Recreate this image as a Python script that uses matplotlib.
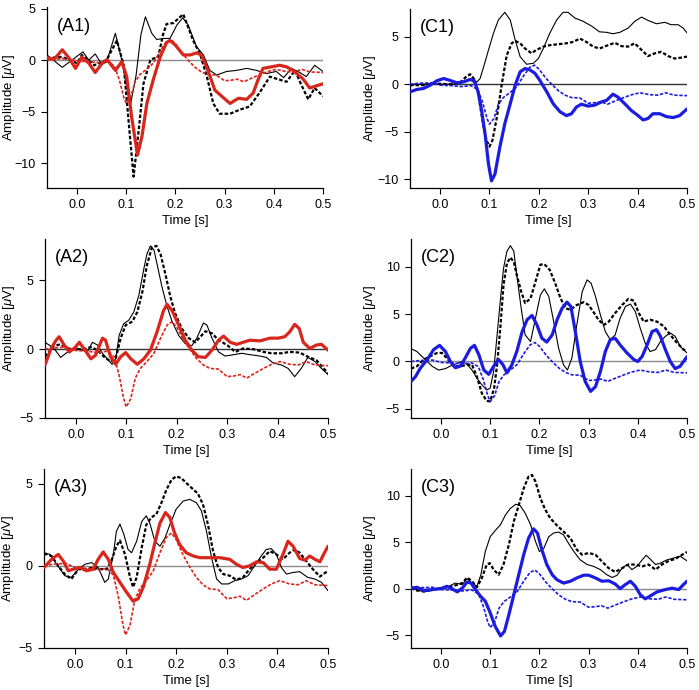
import matplotlib
matplotlib.use("Agg")
import matplotlib.pyplot as plt

plt.rcParams['font.family'] = ['Liberation Sans', 'DejaVu Sans']
plt.rcParams['mathtext.fontset'] = 'custom'
plt.rcParams['mathtext.it'] = 'Liberation Sans:italic'
plt.rcParams['mathtext.rm'] = 'Liberation Sans'

# ---------------- data ----------------
# common coloured dashed reference trace (same in every panel)
ref_t = [-0.061, -0.043, -0.017, 0.0, 0.023, 0.043, 0.0625, 0.076, 0.086, 0.095, 0.1, 0.109, 0.118, 0.128,
         0.141, 0.155, 0.168, 0.181, 0.191, 0.2, 0.214, 0.227, 0.24, 0.253, 0.266, 0.283, 0.3, 0.313, 0.326,
         0.339, 0.355, 0.372, 0.388, 0.405, 0.424, 0.441, 0.457, 0.474, 0.5]
ref_v = [0, 0.1, 0.15, -0.1, -0.15, -0.25, -0.15, -0.55, -1.9, -3.6, -4.2, -3.6, -2.1, -1.4,
         -0.9, -0.3, 0.8, 1.75, 2.0, 1.6, 0.65, -0.07, -0.7, -1.15, -1.4, -1.45, -2.0, -1.95, -1.85,
         -2.1, -1.75, -1.4, -1.1, -0.9, -1.1, -1.15, -0.9, -1.15, -1.2]

# A1
a1_solid_t = [-0.061, -0.03, 0.012, 0.024, 0.037, 0.05, 0.06, 0.078, 0.091, 0.108, 0.12, 0.13, 0.139, 0.152,
              0.162, 0.176, 0.189, 0.203, 0.215, 0.226, 0.243, 0.257, 0.27, 0.284, 0.304, 0.324, 0.345, 0.365,
              0.385, 0.405, 0.42, 0.436, 0.453, 0.466, 0.483, 0.5]
a1_solid_v = [0.5, -0.7, 0.8, 0.0, 0.6, -0.4, -0.2, 2.6, 0.0, -4.5, -1.5, 2.5, 4.2, 2.6,
              2.0, 2.1, 2.1, 3.4, 4.1, 3.4, 1.3, 0.5, -1.0, -1.45, -1.1, -1.0, -0.8, -1.0,
              -1.3, -1.1, -1.7, -0.8, -1.2, -1.6, -0.5, -1.1]
a1_dash_t = [-0.061, -0.03, 0.0, 0.01, 0.035, 0.05, 0.06, 0.081, 0.095, 0.105, 0.115, 0.125, 0.135, 0.149,
             0.155, 0.165, 0.175, 0.182, 0.196, 0.216, 0.236, 0.25, 0.264, 0.277, 0.29, 0.311, 0.331, 0.351,
             0.372, 0.392, 0.405, 0.426, 0.443, 0.456, 0.47, 0.483, 0.5]
a1_dash_v = [0.2, 0.3, -0.3, 0.5, -0.5, -0.2, 0.0, 1.9, -0.5, -6.0, -11.3, -7.0, -2.3, 0.0,
             0.15, 0.3, 2.5, 3.5, 3.6, 4.45, 1.9, 0.6, -1.6, -4.2, -5.2, -5.2, -4.8, -4.5,
             -3.1, -1.6, -1.8, -2.1, -1.0, -2.4, -3.8, -2.7, -3.5]
a1_thick_t = [-0.061, -0.047, -0.03, -0.017, -0.003, 0.01, 0.024, 0.037, 0.051, 0.061, 0.078, 0.091, 0.101,
              0.111, 0.123, 0.132, 0.142, 0.155, 0.169, 0.182, 0.189, 0.2, 0.216, 0.23, 0.243, 0.253, 0.267,
              0.28, 0.294, 0.311, 0.328, 0.345, 0.358, 0.368, 0.378, 0.395, 0.412, 0.426, 0.439, 0.459, 0.473,
              0.486, 0.5]
a1_thick_v = [0.25, 0.05, 1.0, 0.25, -0.8, 0.3, -0.3, -1.2, -0.3, 0.05, -1.0, -0.15, -1.6,
              -5.5, -9.2, -7.4, -4.2, -1.9, 0.3, 1.7, 1.9, 1.45, 0.5, 0.5, 0.7, 0.5, -1.1,
              -2.9, -3.5, -4.2, -3.7, -3.8, -3.2, -1.9, -0.8, -0.65, -0.5, -0.65, -1.0, -1.8, -2.7,
              -2.5, -2.3]

# A2
a2_solid_t = [-0.061, -0.043, -0.03, -0.016, 0.0, 0.013, 0.023, 0.033, 0.043, 0.053, 0.0625, 0.072, 0.079,
              0.086, 0.095, 0.105, 0.115, 0.125, 0.135, 0.141, 0.148, 0.155, 0.161, 0.171, 0.181, 0.191,
              0.204, 0.217, 0.23, 0.24, 0.253, 0.26, 0.27, 0.283, 0.296, 0.313, 0.329, 0.345, 0.365, 0.378,
              0.391, 0.408, 0.421, 0.434, 0.447, 0.46, 0.474, 0.487, 0.5]
a2_solid_v = [0.5, 0.05, -0.6, -0.2, 0.1, -0.07, -0.2, 0.5, 0.3, -0.3, -0.7, -1.1, -0.7,
              1.0, 1.85, 2.1, 2.7, 3.9, 5.85, 6.9, 7.5, 7.2, 6.2, 4.5, 3.1, 2.0,
              1.0, 0.4, 0.25, 0.8, 1.9, 1.75, 0.8, -0.2, -0.5, -0.4, -0.3, -0.4, -0.5, -0.6,
              -1.0, -1.15, -1.4, -2.0, -1.4, -0.6, -0.9, -1.4, -1.85]
a2_dash_t = [-0.061, -0.043, -0.03, -0.016, 0.0, 0.016, 0.03, 0.043, 0.056, 0.069, 0.079, 0.089, 0.099,
             0.112, 0.122, 0.132, 0.141, 0.151, 0.16, 0.168, 0.178, 0.1875, 0.197, 0.21, 0.224, 0.237,
             0.247, 0.257, 0.27, 0.283, 0.3, 0.316, 0.332, 0.352, 0.372, 0.388, 0.408, 0.424, 0.444, 0.46,
             0.477, 0.5]
a2_dash_v = [-0.55, 0.25, 0.35, 0.05, 0.0, 0.0, 0.15, -0.07, -0.55, -0.9, -0.7, 0.8, 1.75,
             2.0, 2.7, 4.15, 6.1, 7.4, 7.5, 6.9, 5.4, 3.8, 2.6, 1.5, 0.8, 0.5,
             0.9, 1.3, 1.15, 0.65, 0.3, -0.2, 0.05, 0.0, -0.2, -0.3, -0.3, -0.2, -0.25, -0.55,
             -0.8, -1.75]
a2_thick_t = [-0.061, -0.049, -0.039, -0.033, -0.023, -0.013, -0.003, 0.007, 0.016, 0.03, 0.039, 0.053,
              0.059, 0.069, 0.079, 0.089, 0.099, 0.109, 0.122, 0.135, 0.148, 0.161, 0.174, 0.181, 0.191,
              0.204, 0.217, 0.23, 0.243, 0.257, 0.27, 0.283, 0.293, 0.306, 0.319, 0.332, 0.345, 0.365,
              0.385, 0.401, 0.414, 0.424, 0.434, 0.443, 0.451, 0.464, 0.477, 0.487, 0.5]
a2_thick_v = [-1.15, 0.05, 0.65, 0.9, 0.3, -0.2, 0.05, 0.5, 0.05, -0.7, -0.45, 0.8,
              0.65, -0.55, -1.1, -0.55, -0.25, -0.7, -1.1, -0.7, -0.07, 1.25, 2.8, 3.25, 2.8,
              1.75, 0.65, -0.07, -0.55, -0.6, -0.07, 0.65, 0.95, 0.5, 0.35, 0.5, 0.65, 0.6,
              0.8, 0.8, 0.9, 1.25, 1.8, 1.5, 0.5, 0.05, 0.3, 0.35, -0.07]

# A3
a3_solid_t = [-0.061, -0.049, -0.036, -0.02, -0.007, 0.007, 0.02, 0.033, 0.046, 0.059, 0.066, 0.076, 0.082,
              0.089, 0.097, 0.105, 0.112, 0.122, 0.132, 0.141, 0.148, 0.158, 0.168, 0.178, 0.1875, 0.2,
              0.214, 0.227, 0.24, 0.25, 0.26, 0.27, 0.28, 0.29, 0.303, 0.316, 0.329, 0.342, 0.355, 0.368,
              0.378, 0.388, 0.398, 0.408, 0.418, 0.431, 0.444, 0.46, 0.474, 0.487, 0.5]
a3_solid_v = [0.8, 0.7, 0.1, -0.6, -0.7, -0.2, 0.1, 0.2, -0.1, -1.0, -0.8, 0.7, 2.1,
              2.55, 1.9, 1.0, 0.8, 1.5, 2.7, 3.05, 2.6, 1.5, 1.2, 1.7, 2.5, 3.45,
              3.95, 4.05, 3.85, 3.35, 2.1, 0.5, -0.8, -1.1, -1.1, -0.9, -0.8, -0.6, 0.0, 0.6,
              1.0, 1.05, 0.7, -0.1, -0.5, -0.4, -0.35, -0.7, -0.8, -1.0, -1.5]
a3_dash_t = [-0.061, -0.046, -0.033, -0.02, -0.007, 0.007, 0.023, 0.036, 0.049, 0.063, 0.072, 0.082, 0.089,
             0.099, 0.109, 0.115, 0.122, 0.132, 0.141, 0.151, 0.161, 0.171, 0.181, 0.191, 0.2, 0.21,
             0.22, 0.234, 0.243, 0.253, 0.263, 0.273, 0.283, 0.293, 0.306, 0.319, 0.332, 0.345, 0.359,
             0.372, 0.385, 0.398, 0.411, 0.424, 0.434, 0.444, 0.457, 0.47, 0.484, 0.5]
a3_dash_v = [0.75, 0.6, 0.0, -0.5, -0.8, -0.2, -0.2, -0.1, -0.2, -0.2, 0.3, 1.2, 1.55,
             0.7, -0.7, -1.3, -0.7, 1.1, 2.5, 2.95, 3.15, 3.85, 4.65, 5.25, 5.45, 5.35,
             5.05, 4.65, 4.4, 3.75, 2.5, 0.9, -0.1, -0.5, -0.6, -0.85, -0.7, -0.2, 0.2,
             0.5, 0.9, 0.7, 0.4, 0.8, 1.0, 0.8, 0.3, -0.2, -0.65, -0.3]
a3_thick_t = [-0.061, -0.046, -0.033, -0.023, -0.013, -0.003, 0.01, 0.023, 0.036, 0.046, 0.056, 0.066,
              0.076, 0.089, 0.102, 0.115, 0.125, 0.135, 0.148, 0.158, 0.168, 0.179, 0.1875, 0.197, 0.207,
              0.22, 0.234, 0.247, 0.266, 0.286, 0.306, 0.319, 0.332, 0.345, 0.359, 0.372, 0.385, 0.398,
              0.411, 0.421, 0.431, 0.444, 0.454, 0.464, 0.474, 0.484, 0.493, 0.5]
a3_thick_v = [-0.1, 0.4, 0.7, 0.3, -0.3, -0.2, -0.1, -0.3, -0.2, 0.4, 0.85, 0.4,
              -0.4, -1.0, -1.6, -2.15, -2.0, -1.3, 0.1, 1.4, 2.6, 3.25, 2.95, 2.0, 1.3,
              0.8, 0.6, 0.5, 0.5, 0.5, 0.4, 0.1, -0.1, 0.0, 0.25, 0.2, -0.2, -0.2,
              0.7, 1.5, 1.2, 0.45, 0.35, 0.6, 0.4, 0.25, 0.8, 1.2]

# C1
c1_solid_t = [-0.061, -0.03, 0.0, 0.02, 0.034, 0.05, 0.061, 0.071, 0.081, 0.088, 0.098, 0.108, 0.118, 0.131,
              0.142, 0.152, 0.162, 0.175, 0.189, 0.199, 0.209, 0.222, 0.236, 0.249, 0.259, 0.273, 0.29,
              0.307, 0.323, 0.337, 0.35, 0.364, 0.381, 0.394, 0.408, 0.421, 0.438, 0.455, 0.468, 0.482,
              0.492, 0.5]
c1_solid_v = [0.0, 0.0, 0.0, 0.0, 0.05, 0.25, 0.5, 0.05, 0.6, 1.8, 3.6, 5.35, 6.75, 7.55,
              6.75, 4.65, 2.9, 2.1, 2.2, 2.7, 3.75, 5.35, 6.75, 7.55, 7.55, 6.95, 6.6,
              6.1, 5.5, 5.45, 5.3, 5.45, 5.9, 6.6, 7.05, 6.7, 6.35, 6.5, 6.25, 6.25,
              5.9, 5.4]
c1_dash_t = [-0.061, -0.034, -0.013, 0.0, 0.02, 0.04, 0.054, 0.061, 0.071, 0.077, 0.088, 0.094, 0.1, 0.106,
             0.115, 0.125, 0.135, 0.145, 0.152, 0.162, 0.172, 0.185, 0.195, 0.209, 0.222, 0.239, 0.256,
             0.27, 0.283, 0.296, 0.31, 0.323, 0.34, 0.354, 0.367, 0.381, 0.394, 0.408, 0.421, 0.435,
             0.448, 0.462, 0.475, 0.489, 0.5]
c1_dash_v = [-0.1, -0.1, 0.05, 0.05, 0.0, 0.15, 0.85, 1.05, 0.4, -1.0, -4.5, -5.9, -6.55, -5.9,
             -3.45, 0.05, 3.05, 4.3, 4.55, 4.3, 3.75, 3.25, 3.6, 3.95, 4.1, 4.2, 4.3,
             4.45, 4.8, 4.45, 3.95, 3.75, 4.1, 4.35, 4.0, 3.95, 4.3, 3.6, 2.95, 3.25,
             3.4, 2.95, 2.7, 2.8, 2.9]
c1_thick_t = [-0.061, -0.047, -0.034, -0.02, -0.007, 0.007, 0.02, 0.034, 0.047, 0.061, 0.069, 0.077, 0.084,
              0.091, 0.098, 0.104, 0.111, 0.121, 0.131, 0.142, 0.152, 0.162, 0.172, 0.182, 0.192, 0.202,
              0.216, 0.229, 0.243, 0.256, 0.266, 0.276, 0.286, 0.3, 0.313, 0.327, 0.337, 0.35, 0.36,
              0.374, 0.387, 0.401, 0.411, 0.421, 0.431, 0.445, 0.458, 0.472, 0.485, 0.5]
c1_thick_v = [-0.8, -0.55, -0.45, -0.1, 0.35, 0.6, 0.4, 0.15, 0.25, 0.5, 0.4, -0.8, -2.75,
              -5.2, -8.4, -10.15, -9.45, -6.6, -4.15, -2.05, -0.1, 1.3, 1.65, 1.5, 1.15, 0.4,
              -0.8, -2.05, -2.9, -3.3, -3.1, -2.4, -2.1, -2.3, -2.2, -1.85, -1.7, -1.05, -1.35,
              -2.05, -2.75, -3.3, -3.75, -3.6, -3.1, -3.1, -3.4, -3.5, -3.3, -2.6]

# C2
c2_solid_t = [-0.061, -0.049, -0.035, -0.018, -0.005, 0.009, 0.022, 0.033, 0.043, 0.053, 0.063, 0.073, 0.083,
              0.093, 0.1, 0.107, 0.114, 0.121, 0.127, 0.134, 0.141, 0.148, 0.154, 0.163, 0.171, 0.182,
              0.192, 0.202, 0.21, 0.219, 0.229, 0.239, 0.249, 0.257, 0.266, 0.276, 0.287, 0.297, 0.305,
              0.314, 0.324, 0.334, 0.344, 0.354, 0.364, 0.375, 0.385, 0.395, 0.405, 0.415, 0.425, 0.436,
              0.446, 0.456, 0.466, 0.476, 0.486, 0.5]
c2_solid_v = [1.35, 1.05, 0.35, -0.5, -0.9, -0.75, -0.4, -0.2, 0.0, -0.3, -0.9, -1.75, -2.45,
              -3.0, -2.8, -1.05, 2.8, 6.65, 9.8, 11.6, 12.2, 11.6, 9.1, 5.6, 2.8, 2.1,
              4.55, 7.0, 7.65, 6.85, 4.2, 1.4, -0.35, -0.9, 0.35, 3.85, 7.35, 8.6, 8.25,
              6.85, 4.9, 3.15, 2.3, 2.8, 4.55, 5.8, 6.05, 5.25, 3.5, 1.95, 1.05, 1.25,
              2.1, 2.65, 3.0, 2.65, 1.6, 0.9]
c2_dash_t = [-0.061, -0.049, -0.035, -0.022, -0.008, 0.002, 0.012, 0.026, 0.039, 0.053, 0.063, 0.073, 0.083,
             0.093, 0.1, 0.108, 0.114, 0.121, 0.127, 0.134, 0.141, 0.148, 0.154, 0.163, 0.171, 0.182,
             0.192, 0.202, 0.21, 0.221, 0.232, 0.243, 0.253, 0.263, 0.276, 0.29, 0.3, 0.31, 0.32, 0.331,
             0.341, 0.354, 0.368, 0.381, 0.392, 0.402, 0.412, 0.425, 0.439, 0.453, 0.466, 0.48, 0.493, 0.5]
c2_dash_v = [-0.75, -0.5, 0.2, 0.55, 0.9, 0.9, 0.35, -0.5, -0.5, -0.35, -0.35, -1.6, -3.35,
             -4.15, -4.2, -2.8, -0.35, 3.85, 8.05, 10.35, 10.95, 10.5, 9.1, 7.35, 6.15, 6.65,
             8.4, 10.2, 10.25, 9.65, 8.25, 6.65, 5.6, 5.45, 5.95, 6.25, 5.95, 5.2, 4.4, 3.85,
             4.2, 5.1, 5.95, 6.6, 6.4, 5.1, 4.2, 4.4, 4.2, 3.7, 2.8, 1.95, 1.25, 1.1]
c2_thick_t = [-0.061, -0.052, -0.042, -0.028, -0.015, -0.003, 0.009, 0.019, 0.029, 0.039, 0.049, 0.06, 0.068,
              0.077, 0.087, 0.097, 0.107, 0.117, 0.126, 0.134, 0.144, 0.154, 0.165, 0.175, 0.185, 0.195,
              0.205, 0.215, 0.226, 0.236, 0.246, 0.256, 0.264, 0.273, 0.283, 0.293, 0.304, 0.314, 0.324,
              0.334, 0.344, 0.354, 0.364, 0.378, 0.392, 0.4, 0.409, 0.419, 0.429, 0.438, 0.446, 0.456,
              0.466, 0.476, 0.486, 0.5]
c2_thick_v = [-2.1, -1.6, -0.7, 0.2, 1.25, 1.7, 1.05, 0.0, -0.65, -0.5, 0.35, 1.4, 1.7,
              0.7, -0.9, -1.35, -0.5, 0.2, -0.35, -1.2, -0.35, 1.05, 3.15, 4.4, 4.85, 3.85,
              2.45, 2.05, 2.8, 4.4, 5.6, 6.25, 5.8, 3.15, 0.0, -2.1, -3.15, -2.65, -1.05,
              1.05, 2.3, 2.45, 1.75, 0.9, 0.2, 0.0, 0.55, 1.75, 3.15, 3.35, 2.65, 1.25,
              0.0, -0.75, -0.5, 0.5]

# C3
c3_solid_t = [-0.061, -0.049, -0.035, -0.018, -0.001, 0.016, 0.029, 0.043, 0.053, 0.063, 0.073, 0.081, 0.09,
              0.1, 0.11, 0.121, 0.131, 0.141, 0.152, 0.161, 0.171, 0.182, 0.192, 0.2, 0.209, 0.219, 0.229,
              0.239, 0.249, 0.259, 0.27, 0.283, 0.297, 0.31, 0.324, 0.337, 0.348, 0.358, 0.368, 0.378,
              0.388, 0.398, 0.409, 0.417, 0.425, 0.436, 0.446, 0.459, 0.473, 0.486, 0.5]
c3_solid_v = [0.05, -0.1, -0.35, -0.2, 0.05, 0.25, 0.6, 0.45, 1.05, 0.6, 0.25, 1.5, 4.0,
              5.6, 6.25, 6.9, 7.95, 8.65, 9.1, 8.95, 8.15, 6.9, 5.1, 4.0, 4.35, 5.6, 6.0,
              6.1, 5.8, 4.9, 4.0, 3.1, 2.6, 2.4, 2.05, 1.5, 1.2, 1.45, 2.2, 2.6,
              2.05, 2.4, 3.1, 3.6, 3.2, 2.6, 2.75, 3.1, 3.3, 3.5, 3.0]
c3_dash_t = [-0.061, -0.049, -0.035, -0.018, -0.001, 0.016, 0.029, 0.043, 0.053, 0.063, 0.073, 0.083, 0.093,
             0.099, 0.107, 0.117, 0.127, 0.138, 0.148, 0.158, 0.168, 0.178, 0.185, 0.192, 0.202, 0.212,
             0.222, 0.236, 0.249, 0.263, 0.276, 0.287, 0.3, 0.314, 0.327, 0.341, 0.354, 0.368, 0.381,
             0.395, 0.409, 0.422, 0.436, 0.449, 0.463, 0.476, 0.49, 0.5]
c3_dash_v = [0.05, -0.2, -0.3, -0.1, 0.05, 0.15, 0.35, 0.6, 1.2, 0.8, 0.15, 1.15, 2.6,
             2.75, 2.05, 1.5, 2.6, 4.75, 7.25, 9.0, 10.8, 12.1, 12.25, 11.55, 9.75, 8.5,
             7.6, 6.8, 6.15, 5.45, 4.2, 3.65, 3.85, 3.65, 2.95, 2.2, 1.8, 2.2, 2.6,
             2.6, 2.4, 2.6, 2.05, 2.6, 3.0, 3.2, 3.65, 3.95]
c3_thick_t = [-0.061, -0.049, -0.035, -0.018, -0.001, 0.012, 0.022, 0.033, 0.043, 0.053, 0.061, 0.07, 0.08,
              0.09, 0.1, 0.11, 0.121, 0.129, 0.138, 0.148, 0.158, 0.168, 0.178, 0.188, 0.196, 0.205, 0.215,
              0.226, 0.236, 0.249, 0.263, 0.276, 0.29, 0.3, 0.314, 0.327, 0.341, 0.354, 0.364, 0.375,
              0.385, 0.395, 0.405, 0.415, 0.425, 0.439, 0.456, 0.47, 0.483, 0.493, 0.5]
c3_thick_v = [0.05, 0.15, -0.2, -0.1, 0.0, 0.25, 0.0, -0.35, 0.05, 0.7, 0.6, -0.1, -0.8,
              -1.35, -2.6, -4.05, -5.1, -4.6, -2.8, -0.65, 1.5, 3.65, 5.45, 6.45, 6.0, 4.2, 2.6,
              1.5, 0.95, 0.6, 0.8, 1.15, 1.45, 1.45, 1.15, 0.8, 0.85, 0.5, 0.0, 0.45,
              0.8, 0.25, -0.65, -1.1, -0.8, -0.35, -0.1, 0.05, -0.1, 0.45, 0.8]

panel_labels = ['(A1)', '(A2)', '(A3)', '(C1)', '(C2)', '(C3)']
xticks = [0.0, 0.1, 0.2, 0.3, 0.4, 0.5]

# ---------------- layout ----------------
W, H = 699, 690
fig = plt.figure(figsize=(W / 100, H / 100), dpi=100)

RED = '#d9261c'
BLUE = '#1c1ce0'

def box(left, right, top, bottom):
    return [left / W, (H - bottom) / H, (right - left) / W, (bottom - top) / H]

panels = [
    dict(rect=box(47, 323, 7, 188), ylim=(-12.4, 5.15), yticks=[-10, -5, 0, 5], col=RED,
         solid=(a1_solid_t, a1_solid_v), dash=(a1_dash_t, a1_dash_v), thick=(a1_thick_t, a1_thick_v),
         label=panel_labels[0], zc='#8a8a8a', ylx=-0.107),
    dict(rect=box(45, 328, 239, 418), ylim=(-5, 8.0), yticks=[-5, 0, 5], col=RED,
         solid=(a2_solid_t, a2_solid_v), dash=(a2_dash_t, a2_dash_v), thick=(a2_thick_t, a2_thick_v),
         label=panel_labels[1], zc='#333333', ylx=-0.1),
    dict(rect=box(44, 328, 469, 648), ylim=(-5, 5.9), yticks=[-5, 0, 5], col=RED,
         solid=(a3_solid_t, a3_solid_v), dash=(a3_dash_t, a3_dash_v), thick=(a3_thick_t, a3_thick_v),
         label=panel_labels[2], zc='#8a8a8a', ylx=-0.097),
    dict(rect=box(410, 687, 9, 188), ylim=(-10.9, 7.9), yticks=[-10, -5, 0, 5], col=BLUE,
         solid=(c1_solid_t, c1_solid_v), dash=(c1_dash_t, c1_dash_v), thick=(c1_thick_t, c1_thick_v),
         label=panel_labels[3], zc='#333333', ylx=-0.116),
    dict(rect=box(411, 687, 239, 418), ylim=(-5.95, 12.9), yticks=[-5, 0, 5, 10], col=BLUE,
         solid=(c2_solid_t, c2_solid_v), dash=(c2_dash_t, c2_dash_v), thick=(c2_thick_t, c2_thick_v),
         label=panel_labels[4], zc='#8a8a8a', ylx=-0.118),
    dict(rect=box(411, 687, 469, 648), ylim=(-6.4, 12.9), yticks=[-5, 0, 5, 10], col=BLUE,
         solid=(c3_solid_t, c3_solid_v), dash=(c3_dash_t, c3_dash_v), thick=(c3_thick_t, c3_thick_v),
         label=panel_labels[5], zc='#8a8a8a', ylx=-0.118),
]

for p in panels:
    ax = fig.add_axes(p['rect'])
    ax.axhline(0, color=p['zc'], lw=1.0, zorder=1)
    ax.plot(*p['solid'], color='black', lw=0.8, zorder=2, solid_joinstyle='round')
    ax.plot(*p['dash'], color='black', lw=1.6, linestyle=(0, (1.6, 0.9)), zorder=3)
    ax.plot(ref_t, ref_v, color=p['col'], lw=1.2, linestyle=(0, (2.0, 1.0)), zorder=4)
    ax.plot(*p['thick'], color=p['col'], lw=2.3, zorder=5, solid_joinstyle='round', solid_capstyle='round')
    ax.set_xlim(-0.061, 0.5)
    ax.set_ylim(*p['ylim'])
    ax.set_xticks(xticks)
    ax.set_xticklabels([f'{x:.1f}' for x in xticks])
    ax.set_yticks(p['yticks'])
    for s in ('top', 'right'):
        ax.spines[s].set_visible(False)
    for s in ('left', 'bottom'):
        ax.spines[s].set_linewidth(0.9)
    ax.tick_params(direction='out', length=4, width=0.8, labelsize=9, pad=4)
    ax.set_xlabel('Time [s]', fontsize=9.5, labelpad=3)
    ax.set_ylabel(r'Amplitude [$\mathit{\mu}$V]', fontsize=9.5)
    ax.yaxis.set_label_coords(p['ylx'], 0.5)
    ax.text(0.035, 0.895, p['label'], transform=ax.transAxes, fontsize=13, va='center', ha='left')

fig.savefig('out.png', dpi=100)
